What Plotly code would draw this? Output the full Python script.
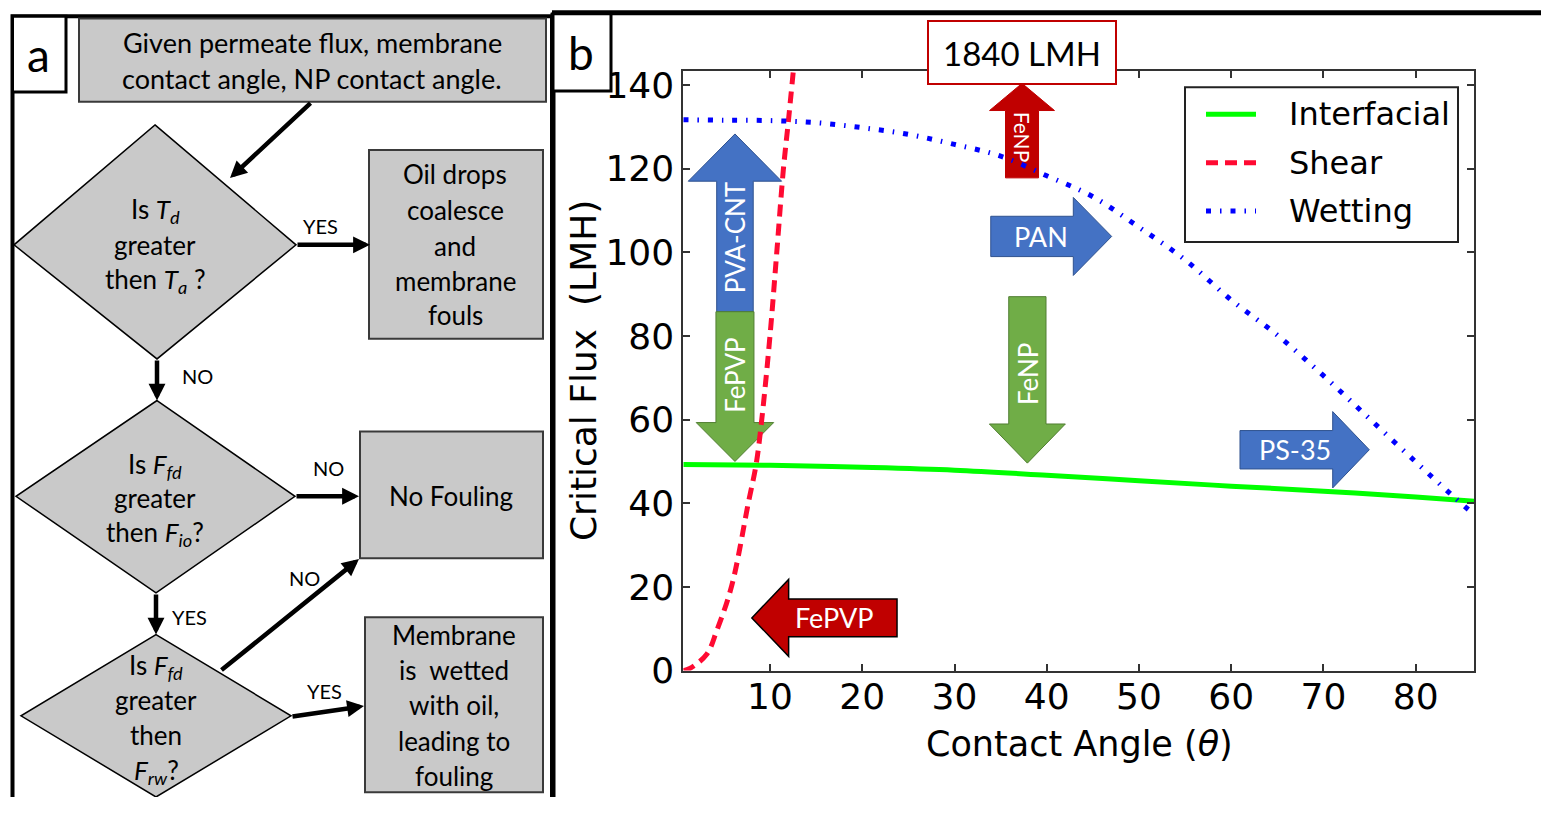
import plotly.graph_objects as go

W, H = 1541, 818

# ---- critical flux curves (LMH) against membrane contact angle (deg) ----
theta_interfacial = [0.6, 10, 20, 30, 40, 50, 60, 70, 80, 86.34]
flux_interfacial = [49.3, 49.1, 48.6, 47.9, 46.7, 45.4, 44.1, 42.9, 41.5, 40.5]

theta_shear = [0.6, 1.3, 3.14, 4.22, 5.85, 7.65, 8.48, 9.1, 10.0, 10.73, 11.44, 11.98, 12.6]
flux_shear = [0, 0.5, 3.9, 9.5, 20.3, 40.1, 49.1, 59.9, 80.1, 99.9, 119.6, 131.1, 145]

theta_wetting = [0.6, 5, 10, 15, 20, 25, 30, 35, 40, 45, 50, 55, 60, 65, 70, 75, 80, 84, 86.34]
flux_wetting = [131.7, 131.6, 131.5, 131.0, 129.8, 128.2, 125.8, 123.0, 118.3, 113.3,
                106.0, 98.2, 88.6, 80.2, 70.5, 60.2, 49.9, 41.8, 37.3]

x_ticks = [10, 20, 30, 40, 50, 60, 70, 80]
y_ticks = [0, 20, 40, 60, 80, 100, 120, 140]

series_names = ["Interfacial", "Shear", "Wetting"]
series_colors = ["#00ff00", "#ff0a32", "#0000ff"]
series_dash = ["solid", "12px,7px", "5px,9px,1.5px,9px"]
series_width = [5, 5, 5]

BLUE, BLUE_EDGE = "#4472c4", "#2f528f"
GREEN, GREEN_EDGE = "#70ad47", "#507e32"
RED = "#c00000"

# membrane markers, vertical: (label, fill, edge, centre x, tail y, tip y, head base y,
#                             shaft half-width, head half-width, text y, text angle, font size)
v_markers = [
    ("PVA-CNT", BLUE, BLUE_EDGE, 6.2, 85.8, 128.3, 117.0, 1.98, 5.06, 103.6, -90, 26),
    ("FePVP", GREEN, GREEN_EDGE, 6.2, 85.8, 50.0, 59.3, 2.06, 4.2, 70.7, -90, 26),
    ("FeNP", GREEN, GREEN_EDGE, 37.9, 89.4, 49.6, 58.96, 2.02, 4.12, 71.0, -90, 26),
    ("FeNP", RED, RED, 37.32, 117.8, 140.4, 133.9, 1.79, 3.52, 127.6, 90, 21),
]
# horizontal: (label, fill, edge, centre y, tail x, tip x, head base x,
#              shaft half-height, head half-height, text x, font size)
h_markers = [
    ("FePVP", RED, "black", 12.6, 23.77, 8.03, 12.02, 4.5, 9.2, 16.94, 27),
    ("PAN", BLUE, BLUE_EDGE, 103.8, 33.93, 47.04, 42.88, 4.82, 9.33, 39.38, 27),
    ("PS-35", BLUE, BLUE_EDGE, 52.8, 60.95, 74.97, 71.0, 4.59, 9.13, 66.9, 27),
]

fig = go.Figure()

for name, xs, ys, c, d, w in zip(series_names,
                                 [theta_interfacial, theta_shear, theta_wetting],
                                 [flux_interfacial, flux_shear, flux_wetting],
                                 series_colors, series_dash, series_width):
    fig.add_trace(go.Scatter(x=xs, y=ys, mode="lines", name=name,
                             line=dict(color=c, width=w, dash=d, shape="spline"),
                             showlegend=False))

# pixel-space overlay used for the flow chart and decorations
fig.add_trace(go.Scatter(x=[], y=[], xaxis="x2", yaxis="y2", showlegend=False, hoverinfo="skip"))

shapes = []
annos = []

# ---- marker arrows on the chart ----
for lab, fill, edge, cx, ty, tip, hb, sw, hw, txy, ang, fs in v_markers:
    path = (f"M{cx-sw},{ty} L{cx-sw},{hb} L{cx-hw},{hb} L{cx},{tip} "
            f"L{cx+hw},{hb} L{cx+sw},{hb} L{cx+sw},{ty} Z")
    shapes.append(dict(type="path", path=path, xref="x", yref="y", fillcolor=fill,
                       line=dict(color=edge, width=1), layer="below"))
    annos.append(dict(x=cx, y=txy, xref="x", yref="y", text=lab, showarrow=False,
                      textangle=ang, font=dict(family="Lato", size=fs, color="white")))

for lab, fill, edge, cy, tx, tip, hb, sh, hh, txx, fs in h_markers:
    path = (f"M{tx},{cy-sh} L{hb},{cy-sh} L{hb},{cy-hh} L{tip},{cy} "
            f"L{hb},{cy+hh} L{hb},{cy+sh} L{tx},{cy+sh} Z")
    shapes.append(dict(type="path", path=path, xref="x", yref="y", fillcolor=fill,
                       line=dict(color=edge, width=1.5 if edge == "black" else 1), layer="below"))
    annos.append(dict(x=txx, y=cy, xref="x", yref="y", text=lab, showarrow=False,
                      font=dict(family="Lato", size=fs, color="white")))

# off-scale value for the FeNP membrane, boxed above the frame
annos.append(dict(x=37.32, y=1 - 48.5 / H, xref="x", yref="paper", text="1840 LMH",
                  showarrow=False, xanchor="center", yanchor="middle",
                  width=186, height=61, bgcolor="white", bordercolor=RED, borderwidth=2,
                  borderpad=0, font=dict(family="Lato", size=33, color="black")))

# ---- legend ----
shapes.append(dict(type="rect", x0=1185, x1=1458, y0=84, y1=244, xref="x2", yref="y2",
                   fillcolor="white", line=dict(color="#222", width=2), layer="above"))
for i, (name, c, d, w) in enumerate(zip(series_names, series_colors, series_dash, series_width)):
    yy = 112 + 50 * i
    shapes.append(dict(type="line", x0=1206, x1=1256, y0=yy, y1=yy, xref="x2", yref="y2",
                       line=dict(color=c, width=w, dash=d), layer="above"))
    annos.append(dict(x=1287, y=yy, xref="x2", yref="y2", text=name, showarrow=False,
                      xanchor="left", font=dict(family="DejaVu Sans", size=32, color="black")))

# ---- axis titles ----
annos.append(dict(x=1079 / W, y=1 - 763 / H, xref="paper", yref="paper",
                  xanchor="center", yanchor="middle",
                  text="Contact Angle (<i>θ</i>)", showarrow=False,
                  font=dict(family="DejaVu Sans", size=35, color="black")))
annos.append(dict(x=583 / W, y=1 - 377.5 / H, xref="paper", yref="paper",
                  xanchor="center", yanchor="middle",
                  text="Critical Flux  (LMH)", showarrow=False, textangle=-90,
                  font=dict(family="DejaVu Sans", size=36, color="black")))

# ---- panel frames and letters ----
shapes.append(dict(type="rect", x0=12.5, x1=552, y0=10.5, y1=840, xref="x2", yref="y2",
                   line=dict(color="black", width=4)))
shapes.append(dict(type="line", x0=552, x1=W, y0=7, y1=7, xref="x2", yref="y2",
                   line=dict(color="black", width=5)))
shapes.append(dict(type="line", x0=553, x1=553, y0=7, y1=H, xref="x2", yref="y2",
                   line=dict(color="black", width=5)))
shapes.append(dict(type="rect", x0=12.5, x1=66, y0=10.5, y1=89, xref="x2", yref="y2",
                   fillcolor="white", line=dict(color="black", width=3)))
shapes.append(dict(type="rect", x0=553, x1=611, y0=8, y1=88, xref="x2", yref="y2",
                   fillcolor="white", line=dict(color="black", width=3)))
annos.append(dict(x=38, y=50, xref="x2", yref="y2", text="a", showarrow=False,
                  font=dict(family="Lato", size=46, color="black")))
annos.append(dict(x=581, y=48, xref="x2", yref="y2", text="b", showarrow=False,
                  font=dict(family="Lato", size=46, color="black")))

# ---- flow chart ----
GREY = "#c9c9c9"
boxes = [(79, 13, 546, 99), (369, 149, 543, 344), (360, 440, 543, 571), (365, 632, 543, 813)]
for x0, y0, x1, y1 in boxes:
    shapes.append(dict(type="rect", x0=x0, x1=x1, y0=y0, y1=y1, xref="x2", yref="y2",
                       fillcolor=GREY, line=dict(color="#3a3a3a", width=2)))

diamonds = [((155, 123), (296, 247), (157, 365), (14, 247)),
            ((157, 408), (295, 507), (156, 607), (16, 507)),
            ((156, 650), (291, 734), (156, 818), (21, 734))]
for pts in diamonds:
    path = "M" + " L".join(f"{px},{py}" for px, py in pts) + " Z"
    shapes.append(dict(type="path", path=path, xref="x2", yref="y2",
                       fillcolor=GREY, line=dict(color="black", width=1.5)))

text_blocks = [
    (312, [38, 75], ["Given permeate flux, membrane", "contact angle, NP contact angle."], 27),
    (155, [211, 247, 284], ["Is <i>T</i><sub><i>d</i></sub>", "greater",
                            "then <i>T</i><sub><i>a</i></sub> ?"], 26),
    (455, [174, 211, 248, 284, 320], ["Oil drops", "coalesce", "and", "membrane", "fouls"], 26),
    (155, [475, 509, 546], ["Is <i>F</i><sub><i>fd</i></sub>", "greater",
                            "then <i>F</i><sub><i>io</i></sub>?"], 26),
    (451, [507], ["No Fouling"], 26),
    (156, [683, 718, 754, 792], ["Is <i>F</i><sub><i>fd</i></sub>", "greater", "then",
                                 "<i>F</i><sub><i>rw</i></sub>?"], 26),
    (454, [650, 687, 723, 760, 796], ["Membrane", "is  wetted", "with oil,", "leading to",
                                      "fouling"], 26),
]
for cx, ys, lines, fs in text_blocks:
    for yy, line in zip(ys, lines):
        annos.append(dict(x=cx, y=yy, xref="x2", yref="y2", text=line, showarrow=False,
                          font=dict(family="Lato", size=fs, color="black")))

branch_labels = [("YES", 320, 228), ("NO", 197, 383), ("NO", 328, 478),
                 ("NO", 304, 592), ("YES", 189, 632), ("YES", 324, 708)]
for lab, lx, ly in branch_labels:
    annos.append(dict(x=lx, y=ly, xref="x2", yref="y2", text=lab, showarrow=False,
                      font=dict(family="Lato", size=20, color="black")))

flow_arrows = [((312, 99), (230, 178)), ((296, 247), (370, 247)), ((157, 365), (157, 408)),
               ((295, 507), (359, 507)), ((156, 607), (156, 650)), ((220, 688), (359, 572)),
               ((291, 735), (364, 724))]
for (x0, y0), (x1, y1) in flow_arrows:
    annos.append(dict(x=x1, y=y1, ax=x0, ay=y0, xref="x2", yref="y2", axref="x2", ayref="y2",
                      text="", showarrow=True, arrowhead=2, arrowsize=0.75, arrowwidth=4.5,
                      arrowcolor="black"))

axis_common = dict(ticks="inside", ticklen=7, tickwidth=1.5, tickcolor="#333",
                   showline=True, linecolor="#333", linewidth=2, mirror="ticks",
                   showgrid=False, zeroline=False, fixedrange=True,
                   tickfont=dict(family="DejaVu Sans", size=36, color="black"))

fig.update_layout(
    width=W, height=H, margin=dict(l=0, r=0, t=0, b=0),
    paper_bgcolor="white", plot_bgcolor="rgba(0,0,0,0)", showlegend=False,
    xaxis=dict(domain=[683.3 / W, 1474.2 / W], range=[0.6, 86.34], tickvals=x_ticks,
               anchor="y", ticklabelstandoff=-7, **axis_common),
    yaxis=dict(domain=[1 - 687.3 / H, 1 - 67 / H], range=[0, 143.4], tickvals=y_ticks,
               anchor="x", **axis_common),
    xaxis2=dict(domain=[0, 1], range=[0, W], visible=False, anchor="y2", fixedrange=True),
    yaxis2=dict(domain=[0, 1], range=[H, 0], visible=False, anchor="x2", fixedrange=True),
    shapes=shapes, annotations=annos,
)

fig.write_html("out.html", config={"displayModeBar": False})
